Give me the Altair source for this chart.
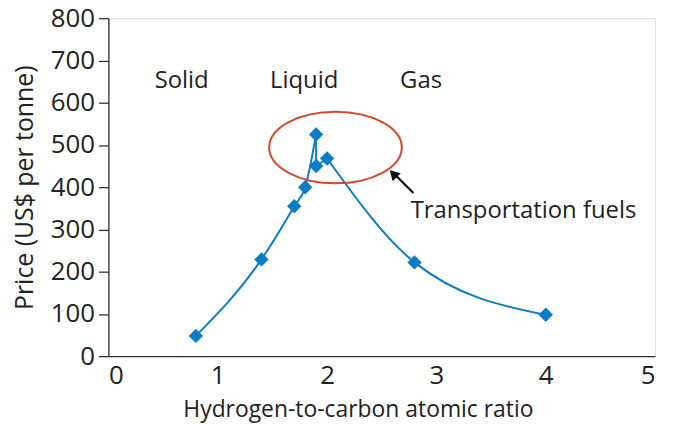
import altair as alt
import pandas as pd

# data
ratio = [0.8, 1.4, 1.7, 1.8, 1.9, 1.9, 2.0, 2.8, 4.0]
price = [48, 229, 355, 400, 525, 450, 468, 222, 98]

# line pieces: (piece id, indices into the arrays above)
piece_ids = ["a", "b", "c"]
piece_members = [[0, 1, 2, 3, 4], [4, 5, 6], [6, 7, 8]]
piece_interp = ["monotone", "linear", "monotone"]

phase_labels = ["Solid", "Liquid", "Gas"]
phase_x = [0.67, 1.79, 2.86]
phase_y = [652, 652, 652]

ellipse_x = [2.077]
ellipse_y = [494]

note_text = ["Transportation fuels"]
note_x = [2.765]
note_y = [343]

arrow_x = [2.79]
arrow_y = [386]
arrow_x2 = [2.60]
arrow_y2 = [435]
head_x = [2.605]
head_y = [432]

FONT = "Open Sans"
BLUE = "#0b7dc5"
RED = "#d9472e"

df = pd.DataFrame({"ratio": ratio, "price": price})

xscale = alt.Scale(domain=[0, 5], nice=False, zero=False)
yscale = alt.Scale(domain=[0, 800], nice=False)

xaxis = alt.Axis(values=[0, 1, 2, 3, 4, 5], format="d", ticks=False, grid=False, labelFontSize=26,
                 labelFont=FONT, labelColor="#222", labelPadding=7,
                 title="Hydrogen-to-carbon atomic ratio", titleFont=FONT, titleFontSize=23,
                 titleFontWeight="normal", titleColor="#222", titlePadding=10,
                 titleX=251, titleAlign="center",
                 domainColor="#333", domainWidth=1.3)
yaxis = alt.Axis(values=list(range(0, 801, 100)), format="d", grid=False, tickSize=10, tickColor="#333",
                 tickWidth=1.3, labelFontSize=26, labelFont=FONT, labelColor="#222",
                 labelPadding=4, title="Price (US$ per tonne)", titleFont=FONT,
                 titleFontSize=25, titleFontWeight="normal", titleColor="#222",
                 titlePadding=13, domainColor="#333", domainWidth=1.3)

layers = []
for pid, members, interp in zip(piece_ids, piece_members, piece_interp):
    seg = pd.DataFrame({"ratio": [ratio[i] for i in members],
                        "price": [price[i] for i in members],
                        "k": list(range(len(members)))})
    layers.append(
        alt.Chart(seg).mark_line(color=BLUE, strokeWidth=2, interpolate=interp).encode(
            x=alt.X("ratio:Q", scale=xscale, axis=xaxis),
            y=alt.Y("price:Q", scale=yscale, axis=yaxis),
            order="k:Q",
        )
    )

pts = alt.Chart(df).mark_point(shape="diamond", filled=True, size=210, color=BLUE, opacity=1).encode(
    x=alt.X("ratio:Q", scale=xscale, axis=xaxis),
    y=alt.Y("price:Q", scale=yscale, axis=yaxis),
)

phases = alt.Chart(pd.DataFrame({"t": phase_labels, "x": phase_x, "y": phase_y})).mark_text(
    font=FONT, fontSize=24, color="#222", align="center", baseline="middle"
).encode(x="x:Q", y="y:Q", text="t:N")

ell = alt.Chart(pd.DataFrame({"x": ellipse_x, "y": ellipse_y})).mark_point(
    shape="M-1,0A1,0.54,0,1,0,1,0A1,0.54,0,1,0,-1,0Z", size=17800, filled=False,
    stroke=RED, strokeWidth=2, opacity=1
).encode(x="x:Q", y="y:Q")

note = alt.Chart(pd.DataFrame({"t": note_text, "x": note_x, "y": note_y})).mark_text(
    font=FONT, fontSize=24, color="#222", align="left", baseline="middle"
).encode(x="x:Q", y="y:Q", text="t:N")

arrow = alt.Chart(pd.DataFrame({"x": arrow_x, "y": arrow_y, "x2": arrow_x2, "y2": arrow_y2})).mark_rule(
    color="#111", strokeWidth=2.2
).encode(x="x:Q", y="y:Q", x2="x2:Q", y2="y2:Q")

head = alt.Chart(pd.DataFrame({"x": head_x, "y": head_y})).mark_point(
    shape="triangle-up", filled=True, size=130, color="#111", angle=315, opacity=1
).encode(x="x:Q", y="y:Q")

chart = alt.layer(*layers, pts, ell, arrow, head, phases, note).properties(
    width=550, height=340,
    autosize=alt.AutoSizeParams(type="none"),
    padding={"left": 101, "top": 9, "right": 12, "bottom": 70},
).configure_view(stroke="#777", strokeWidth=1.3).configure(background="white")

chart.save("out.html", embed_options={"renderer": "svg", "actions": False})
